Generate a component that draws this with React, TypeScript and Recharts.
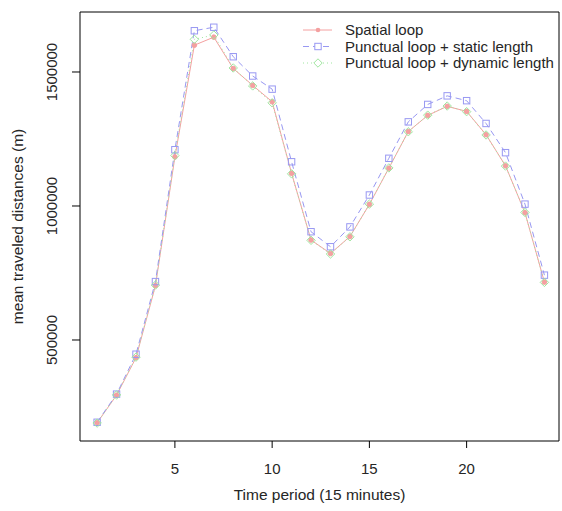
import { LineChart, Line, XAxis, YAxis, ReferenceArea, Legend } from "recharts";

const periods = [1, 2, 3, 4, 5, 6, 7, 8, 9, 10, 11, 12, 13, 14, 15, 16, 17, 18, 19, 20, 21, 22, 23, 24];

const spatialLoop = [
  191000, 294000, 434000, 703000, 1183000, 1600000, 1630000, 1513000, 1450000, 1389000, 1122000, 873000,
  823000, 886000, 1006000, 1141000, 1278000, 1338000, 1372000, 1353000, 1266000, 1150000, 975000, 716000,
];

const punctualStatic = [
  193000, 298000, 447000, 718000, 1210000, 1654000, 1667000, 1557000, 1485000, 1436000, 1165000, 904000,
  848000, 922000, 1041000, 1178000, 1314000, 1379000, 1411000, 1393000, 1308000, 1199000, 1007000, 742000,
];

const punctualDynamic = [
  190000, 295000, 436000, 705000, 1188000, 1622000, 1638000, 1515000, 1448000, 1385000, 1120000, 872000,
  821000, 885000, 1007000, 1142000, 1277000, 1339000, 1373000, 1352000, 1265000, 1149000, 976000, 715000,
];

const xTicks = [5, 10, 15, 20];
const yTicks = [500000, 1000000, 1500000];

const seriesNames = ["Spatial loop", "Punctual loop + static length", "Punctual loop + dynamic length"];

const RED = "#f4a0a0";
const BLUE = "#9898f2";
const GREEN = "#a0e6a0";
const TEXT = "#262626";
const FONT = "'Liberation Sans', Arial, sans-serif";

const X_DOMAIN: [number, number] = [0.12, 24.75];
const Y_DOMAIN: [number, number] = [123134, 1723880];

const data = periods.map((p, i) => ({
  period: p,
  spatial: spatialLoop[i],
  static: punctualStatic[i],
  dynamic: punctualDynamic[i],
}));

const CircleDot = (props: any) => {
  const { cx, cy, key } = props;
  if (cx == null || cy == null) return null;
  return <circle key={key} cx={cx} cy={cy} r={2.3} fill={RED} stroke={RED} strokeWidth={1} />;
};

const SquareDot = (props: any) => {
  const { cx, cy, key } = props;
  if (cx == null || cy == null) return null;
  return <rect key={key} x={cx - 3.2} y={cy - 3.2} width={6.4} height={6.4} fill="none" stroke={BLUE} strokeWidth={1} />;
};

const DiamondDot = (props: any) => {
  const { cx, cy, key } = props;
  if (cx == null || cy == null) return null;
  return (
    <polygon
      key={key}
      points={`${cx},${cy - 4.2} ${cx + 4.2},${cy} ${cx},${cy + 4.2} ${cx - 4.2},${cy}`}
      fill="none"
      stroke={GREEN}
      strokeWidth={1}
    />
  );
};

const YTick = (props: any) => {
  const { x, y, payload } = props;
  return (
    <text
      transform={`translate(${x},${y}) rotate(-90)`}
      textAnchor="middle"
      fontSize={15}
      fontFamily={FONT}
      fill={TEXT}
    >
      {payload.value}
    </text>
  );
};

const renderLegend = () => {
  const rows = [
    { color: RED, dash: undefined, marker: "circle" },
    { color: BLUE, dash: "6 4", marker: "square" },
    { color: GREEN, dash: "1 3", marker: "diamond" },
  ];
  return (
    <svg width={262} height={56}>
      {rows.map((r, i) => {
        const y = 8 + i * 16.5;
        return (
          <g key={i}>
            <line x1={3} x2={32} y1={y} y2={y} stroke={r.color} strokeWidth={1} strokeDasharray={r.dash} />
            {r.marker === "circle" && <circle cx={18} cy={y} r={2.3} fill={r.color} />}
            {r.marker === "square" && (
              <rect x={14.8} y={y - 3.2} width={6.4} height={6.4} fill="#fff" stroke={r.color} />
            )}
            {r.marker === "diamond" && (
              <polygon
                points={`18,${y - 4.2} 22.2,${y} 18,${y + 4.2} 13.8,${y}`}
                fill="#fff"
                stroke={r.color}
              />
            )}
            <text x={45} y={y + 5.2} fontSize={15} fontFamily={FONT} fill={TEXT}>
              {seriesNames[i]}
            </text>
          </g>
        );
      })}
    </svg>
  );
};

export default function App() {
  return (
    <div style={{ position: "absolute", left: 0, top: 0, background: "#fff" }}>
      <LineChart width={562} height={511} data={data} margin={{ top: 12, right: 3, bottom: 0, left: 0 }}>
        <XAxis
          dataKey="period"
          type="number"
          domain={X_DOMAIN}
          allowDataOverflow
          ticks={xTicks}
          height={70}
          axisLine={false}
          tickLine={{ stroke: "#000" }}
          tickSize={7}
          tickMargin={15}
          tick={{ fontSize: 15, fontFamily: FONT, fill: TEXT }}
          label={{
            value: "Time period (15 minutes)",
            position: "insideBottom",
            offset: 11,
            style: { fontSize: 15.5, fontFamily: FONT, fill: TEXT },
          }}
        />
        <YAxis
          type="number"
          domain={Y_DOMAIN}
          allowDataOverflow
          ticks={yTicks}
          width={80}
          axisLine={false}
          tickLine={{ stroke: "#000" }}
          tickSize={8}
          tickMargin={15}
          tick={<YTick />}
          label={{
            value: "mean traveled distances (m)",
            angle: -90,
            position: "insideLeft",
            offset: 17,
            style: { fontSize: 15.5, fontFamily: FONT, fill: TEXT, textAnchor: "middle" },
          }}
        />
        <ReferenceArea
          x1={X_DOMAIN[0]}
          x2={X_DOMAIN[1]}
          y1={Y_DOMAIN[0]}
          y2={Y_DOMAIN[1]}
          fill="none"
          stroke="#000"
          strokeWidth={1}
          ifOverflow="visible"
        />
        <Legend
          layout="vertical"
          align="center"
          verticalAlign="middle"
          content={renderLegend}
          wrapperStyle={{ left: 300, top: 22, width: 262, height: 56 }}
        />
        <Line
          dataKey="spatial"
          stroke={RED}
          strokeWidth={1}
          dot={<CircleDot />}
          isAnimationActive={false}
        />
        <Line
          dataKey="static"
          stroke={BLUE}
          strokeWidth={1}
          strokeDasharray="6 4"
          dot={<SquareDot />}
          isAnimationActive={false}
        />
        <Line
          dataKey="dynamic"
          stroke={GREEN}
          strokeWidth={1}
          strokeDasharray="1 3"
          dot={<DiamondDot />}
          isAnimationActive={false}
        />
      </LineChart>
    </div>
  );
}
